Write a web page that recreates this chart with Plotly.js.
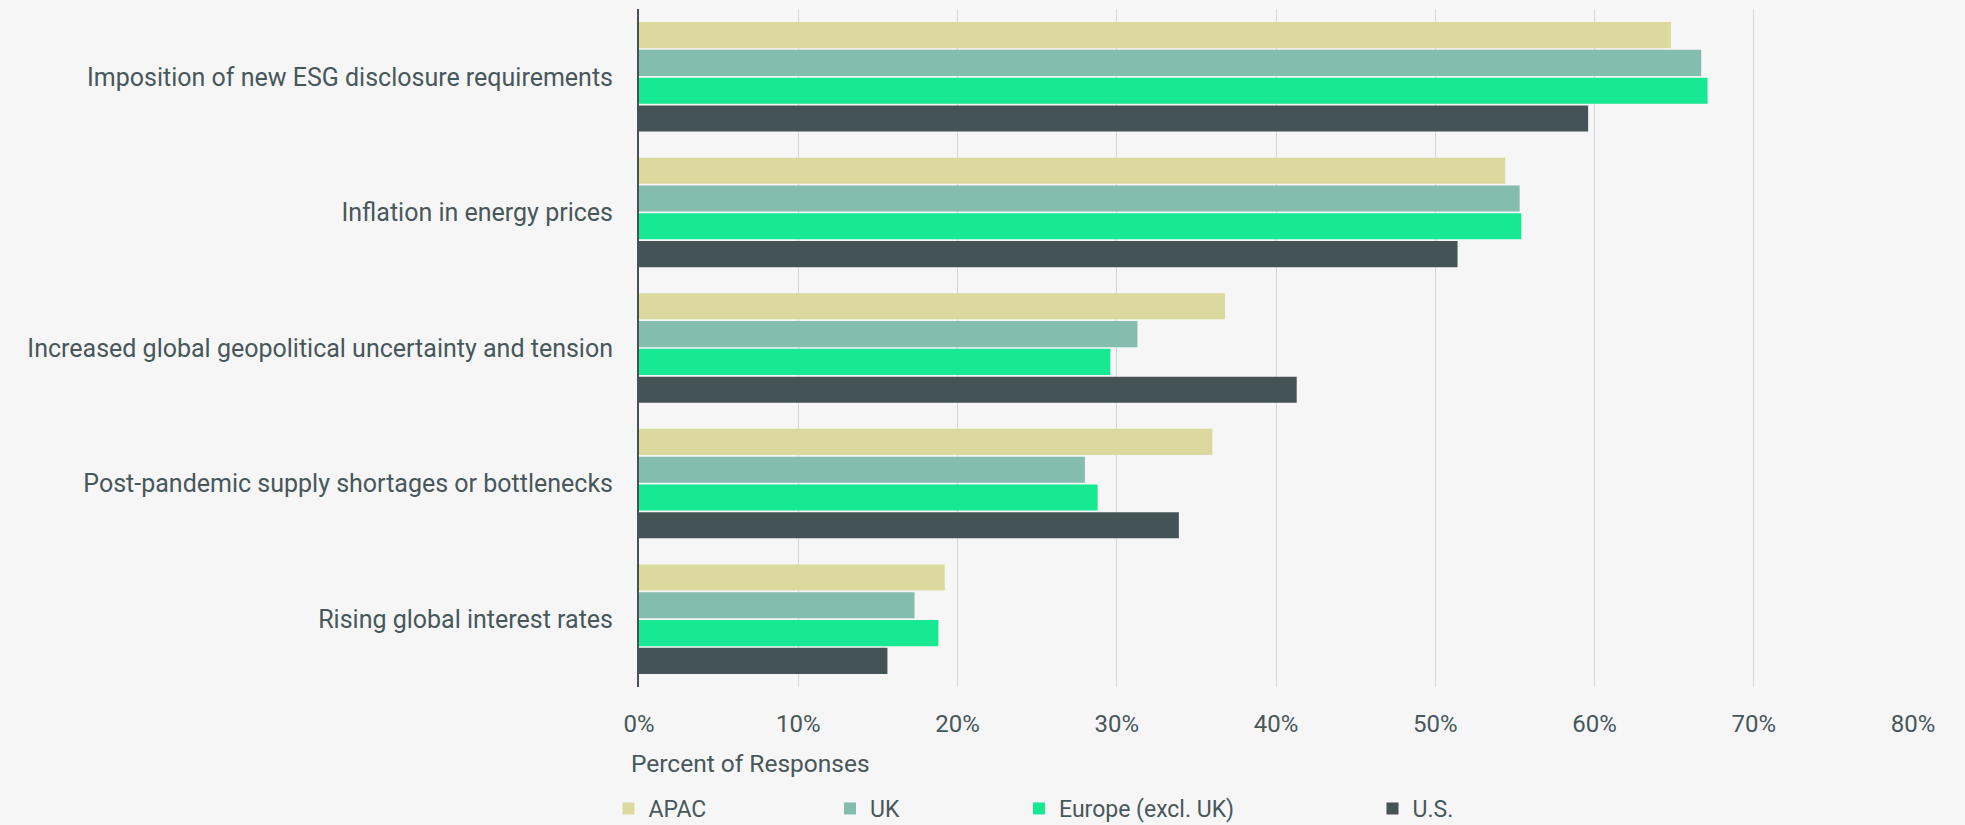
<!DOCTYPE html>
<html>
<head>
<meta charset="utf-8">
<script src="https://cdn.plot.ly/plotly-3.0.1.min.js"></script>
<style>
html,body{margin:0;padding:0;background:#f6f6f6;}
#chart{width:1965px;height:825px;}
</style>
</head>
<body>
<div id="chart"></div>
<script>
const categories = [
  "Imposition of new ESG disclosure requirements",
  "Inflation in energy prices",
  "Increased global geopolitical uncertainty and tension",
  "Post-pandemic supply shortages or bottlenecks",
  "Rising global interest rates"
];
const seriesNames = ["APAC", "UK", "Europe (excl. UK)", "U.S."];
const apac   = [64.8, 54.4, 36.8, 36.0, 19.2];
const uk     = [66.7, 55.3, 31.3, 28.0, 17.3];
const europe = [67.1, 55.4, 29.6, 28.8, 18.8];
const us     = [59.6, 51.4, 41.3, 33.9, 15.6];
const xTickVals = [0, 10, 20, 30, 40, 50, 60, 70, 80];
const xTickText = ["0%", "10%", "20%", "30%", "40%", "50%", "60%", "70%", "80%"];

const colors = ["#dbd99e", "#84bcae", "#17e993", "#435356"];
const values = [apac, uk, europe, us];
const legendIds = ["legend", "legend2", "legend3", "legend4"];
const textColor = "#48575a";
const fontFamily = "Roboto, 'Open Sans', sans-serif";

const traces = values.map((v, i) => ({
  type: "bar",
  orientation: "h",
  name: seriesNames[i],
  x: v,
  y: categories,
  marker: {color: colors[i], line: {width: 0}},
  legend: legendIds[i],
  hoverinfo: "x+name"
}));

// plot area: x 639..1913, y 9..687
const FW = 1965, FH = 825;
const L = 639, R = 1913, T = 9, B = 687;
const W = R - L, H = B - T;
const px = v => (v - L) / W;
const py = v => (B - v) / H;
const cx = v => v / FW;
const cy = v => (FH - v) / FH;

const legendMarkerCenters = [628.5, 850, 1039, 1392.5];
const legendY = 808.5;
const legends = {};
legendIds.forEach((id, i) => {
  legends[id] = {
    xref: "container", yref: "container",
    x: cx(legendMarkerCenters[i] - 20),
    xanchor: "left",
    y: cy(legendY),
    yanchor: "middle",
    orientation: "h",
    bgcolor: "rgba(0,0,0,0)",
    borderwidth: 0,
    font: {family: fontFamily, size: 23, color: textColor},
    itemwidth: 30
  };
});

const layout = Object.assign({
  width: FW,
  height: FH,
  paper_bgcolor: "#f6f6f6",
  plot_bgcolor: "#f6f6f6",
  margin: {l: L, r: FW - R, t: T, b: FH - B, pad: 0, autoexpand: false},
  barmode: "group",
  bargap: 0.18,
  bargroupgap: 0.06,
  font: {family: fontFamily, size: 24, color: textColor},
  showlegend: true,
  xaxis: {
    range: [0, 80],
    tickvals: xTickVals,
    ticktext: xTickText,
    showgrid: true,
    gridcolor: "#d3d7d7",
    gridwidth: 1,
    zeroline: false,
    showline: false,
    ticks: "",
    automargin: false,
    ticklabelstandoff: 20,
    tickfont: {family: fontFamily, size: 24, color: textColor},
    fixedrange: true
  },
  yaxis: {
    autorange: "reversed",
    showgrid: false,
    zeroline: false,
    showline: true,
    linecolor: "#435356",
    linewidth: 2,
    ticks: "",
    automargin: false,
    ticklabelstandoff: 19,
    tickfont: {family: fontFamily, size: 25, color: textColor},
    fixedrange: true
  },
  annotations: [{
    text: "Percent of Responses",
    xref: "paper", yref: "paper",
    x: px(629), y: py(763),
    xanchor: "left", yanchor: "middle",
    showarrow: false,
    font: {family: fontFamily, size: 24.5, color: textColor}
  }]
}, legends);

Plotly.newPlot("chart", traces, layout, {displayModeBar: false, staticPlot: true});
</script>
</body>
</html>
